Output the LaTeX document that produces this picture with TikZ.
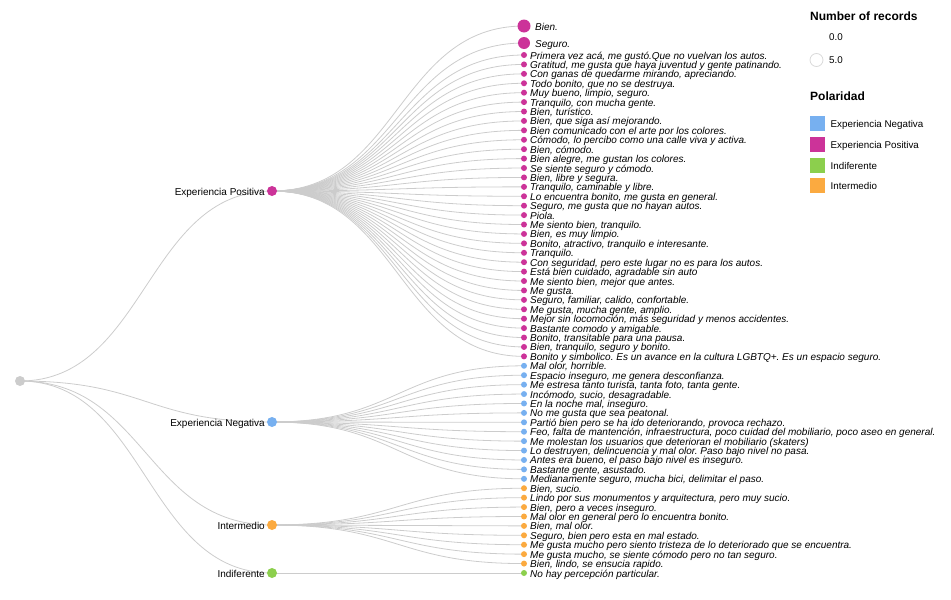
\documentclass[tikz,border=0pt]{standalone}
\usepackage{fontspec}
\setmainfont{Liberation Sans}
\usetikzlibrary{backgrounds}
\frenchspacing
\definecolor{cpos}{HTML}{CC3399}
\definecolor{cneg}{HTML}{77B0F0}
\definecolor{cind}{HTML}{8CCF4D}
\definecolor{cint}{HTML}{FBAA40}
\definecolor{clink}{HTML}{CCCCCC}
\definecolor{croot}{HTML}{CCCCCC}
\tikzset{
  dot/.style={circle,inner sep=0pt,minimum size=#1},
  leaftext/.style={anchor=base west,inner sep=0pt,font=\fontsize{10}{12}\selectfont\itshape},
  cattext/.style={anchor=base east,inner sep=0pt,font=\fontsize{10}{12}\selectfont},
  legtitle/.style={anchor=base west,inner sep=0pt,font=\fontsize{12}{14}\selectfont\bfseries},
  legtext/.style={anchor=base west,inner sep=0pt,font=\fontsize{9.8}{12}\selectfont},
  swatch/.style={minimum width=15pt,minimum height=15pt,inner sep=0pt},
  link/.style={draw=clink,line width=0.8pt},
}
\begin{document}
\begin{tikzpicture}[x=1pt,y=-1pt]
\useasboundingbox (0,0) rectangle (951,600);
% root and categories
\node[dot=10pt,fill=croot] (root) at (20,381) {};
\node[dot=10pt,fill=cpos] (P) at (272,191) {};
\node[dot=10pt,fill=cneg] (N) at (272,422) {};
\node[dot=10pt,fill=cint] (I) at (272,525) {};
\node[dot=10pt,fill=cind] (D) at (272,573) {};
\node[cattext] (Pl) at (265,195) {Experiencia Positiva};
\node[cattext] (Nl) at (265,426) {Experiencia Negativa};
\node[cattext] (Il) at (265,529) {Intermedio};
\node[cattext] (Dl) at (265,577) {Indiferente};
\begin{pgfonlayer}{background}
\foreach \c in {P,N,I,D}{
  \draw[link] (root.center) .. controls +(126,0) and +(-126,0) .. (\c.center);
}
\end{pgfonlayer}
% big leaves
\node[dot=13pt,fill=cpos] (p1) at (524,26) {};
\node[leaftext] (t1) at (535,30) {Bien.};
\node[dot=12pt,fill=cpos] (p2) at (524,43) {};
\node[leaftext] (t2) at (535,47) {Seguro.};
\begin{pgfonlayer}{background}
\draw[link] (P.center) .. controls +(126,0) and +(-126,0) .. (p1.center);
\draw[link] (P.center) .. controls +(126,0) and +(-126,0) .. (p2.center);
\end{pgfonlayer}
% positive leaves
\foreach \t [count=\k from 3] in {
{Primera vez acá, me gustó.Que no vuelvan los autos.},
{Gratitud, me gusta que haya juventud y gente patinando.},
{Con ganas de quedarme mirando, apreciando.},
{Todo bonito, que no se destruya.},
{Muy bueno, limpio, seguro.},
{Tranquilo, con mucha gente.},
{Bien, turístico.},
{Bien, que siga así mejorando.},
{Bien comunicado con el arte por los colores.},
{Cómodo, lo percibo como una calle viva y activa.},
{Bien, cómodo.},
{Bien alegre, me gustan los colores.},
{Se siente seguro y cómodo.},
{Bien, libre y segura.},
{Tranquilo, caminable y libre.},
{Lo encuentra bonito, me gusta en general.},
{Seguro, me gusta que no hayan autos.},
{Piola.},
{Me siento bien, tranquilo.},
{Bien, es muy limpio.},
{Bonito, atractivo, tranquilo e interesante.},
{Tranquilo.},
{Con seguridad, pero este lugar no es para los autos.},
{Está bien cuidado, agradable sin auto},
{Me siento bien, mejor que antes.},
{Me gusta.},
{Seguro, familiar, calido, confortable.},
{Me gusta, mucha gente, amplio.},
{Mejor sin locomoción, más seguridad y menos accidentes.},
{Bastante comodo y amigable.},
{Bonito, transitable para una pausa.},
{Bien, tranquilo, seguro y bonito.},
{Bonito y simbolico. Es un avance en la cultura LGBTQ+. Es un espacio seguro.}}{
  \pgfmathsetmacro\yy{55+(\k-3)*9.418}
  \node[dot=6pt,fill=cpos] (p\k) at (524,\yy) {};
  \node[leaftext] (t\k) at (530,\yy+4) {\t};
  \begin{pgfonlayer}{background}
  \draw[link] (P.center) .. controls +(126,0) and +(-126,0) .. (p\k.center);
  \end{pgfonlayer}
}
% negative leaves
\foreach \t [count=\k from 36] in {
{Mal olor, horrible.},
{Espacio inseguro, me genera desconfianza.},
{Me estresa tanto turista, tanta foto, tanta gente.},
{Incómodo, sucio, desagradable.},
{En la noche mal, inseguro.},
{No me gusta que sea peatonal.},
{Partió bien pero se ha ido deteriorando, provoca rechazo.},
{Feo, falta de mantención, infraestructura, poco cuidad del mobiliario, poco aseo en general.},
{Me molestan los usuarios que deterioran el mobiliario (skaters)},
{Lo destruyen, delincuencia y mal olor. Paso bajo nivel no pasa.},
{Antes era bueno, el paso bajo nivel es inseguro.},
{Bastante gente, asustado.},
{Medianamente seguro, mucha bici, delimitar el paso.}}{
  \pgfmathsetmacro\yy{55+(\k-3)*9.418}
  \node[dot=6pt,fill=cneg] (p\k) at (524,\yy) {};
  \node[leaftext] (t\k) at (530,\yy+4) {\t};
  \begin{pgfonlayer}{background}
  \draw[link] (N.center) .. controls +(126,0) and +(-126,0) .. (p\k.center);
  \end{pgfonlayer}
}
% intermedio leaves
\foreach \t [count=\k from 49] in {
{Bien, sucio.},
{Lindo por sus monumentos y arquitectura, pero muy sucio.},
{Bien, pero a veces inseguro.},
{Mal olor en general pero lo encuentra bonito.},
{Bien, mal olor.},
{Seguro, bien pero esta en mal estado.},
{Me gusta mucho pero siento tristeza de lo deteriorado que se encuentra.},
{Me gusta mucho, se siente cómodo pero no tan seguro.},
{Bien, lindo, se ensucia rapido.}}{
  \pgfmathsetmacro\yy{55+(\k-3)*9.418}
  \node[dot=6pt,fill=cint] (p\k) at (524,\yy) {};
  \node[leaftext] (t\k) at (530,\yy+4) {\t};
  \begin{pgfonlayer}{background}
  \draw[link] (I.center) .. controls +(126,0) and +(-126,0) .. (p\k.center);
  \end{pgfonlayer}
}
% indiferente leaf
\node[dot=6pt,fill=cind] (p58) at (524,573) {};
\node[leaftext] (t58) at (530,577) {No hay percepción particular.};
\begin{pgfonlayer}{background}
\draw[link] (D.center) -- (p58.center);
\end{pgfonlayer}
% legend
\node[legtitle] (lt1) at (810,20) {Number of records};
\node[legtext] (l00) at (829,40.5) {0.0};
\node[dot=13pt,draw=black!15,line width=0.8pt] (lc) at (816.5,60) {};
\node[legtext] (l50) at (829,63.5) {5.0};
\node[legtitle] (lt2) at (810,100.5) {Polaridad};
\node[swatch,fill=cneg] (s1) at (817.5,123.5) {};
\node[legtext] (ls1) at (830.5,127.5) {Experiencia Negativa};
\node[swatch,fill=cpos] (s2) at (817.5,144) {};
\node[legtext] (ls2) at (830.5,148) {Experiencia Positiva};
\node[swatch,fill=cind] (s3) at (817.5,165) {};
\node[legtext] (ls3) at (830.5,169) {Indiferente};
\node[swatch,fill=cint] (s4) at (817.5,185.5) {};
\node[legtext] (ls4) at (830.5,189.5) {Intermedio};
\end{tikzpicture}
\end{document}
